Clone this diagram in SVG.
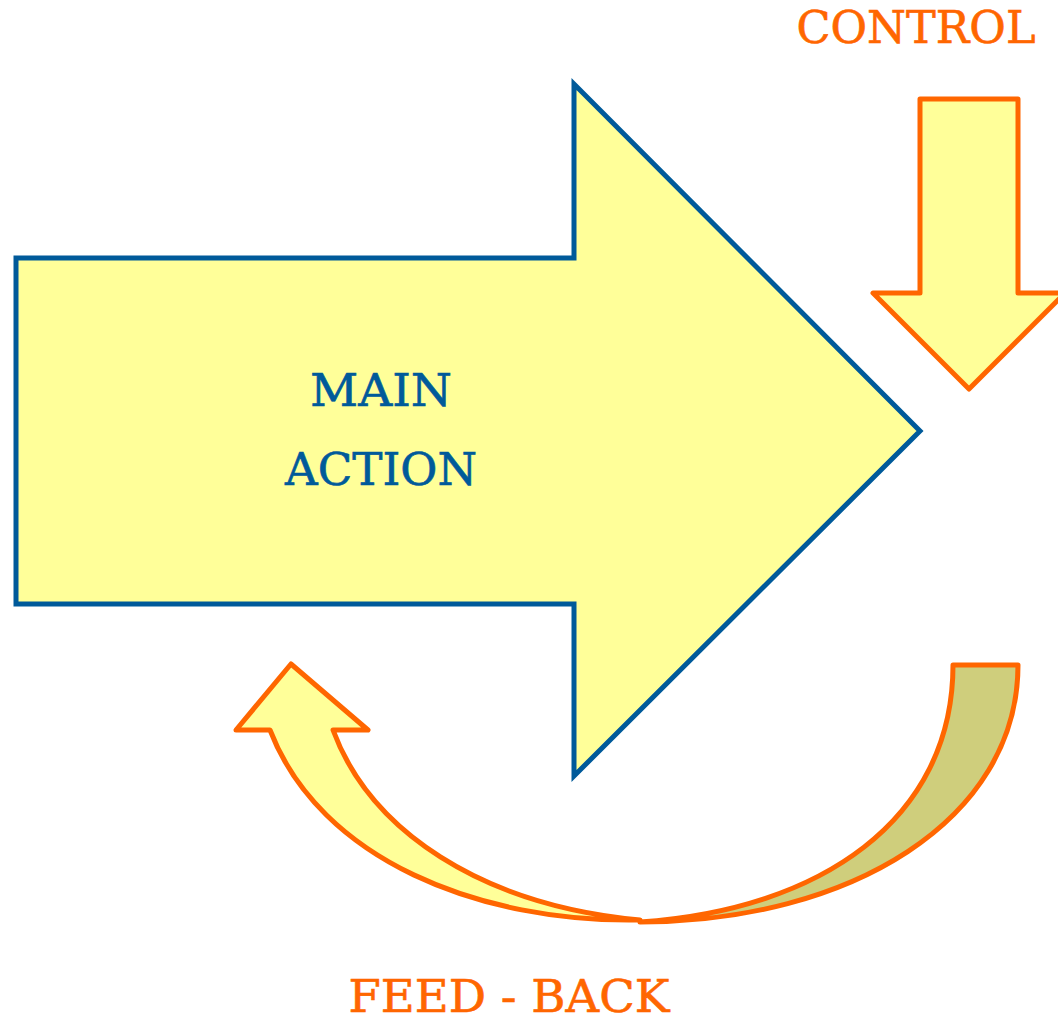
<svg xmlns="http://www.w3.org/2000/svg" width="1058" height="1020" viewBox="0 0 1058 1020">
<style>
.lbl{font-family:"DejaVu Serif","Liberation Serif",serif;font-size:44px;text-anchor:middle;stroke-width:0.6}
.org{fill:#ff6600;stroke:#ff6600}
.blu{fill:#005a9a;stroke:#005a9a}
.oshape{stroke:#ff6600;stroke-width:5;stroke-linejoin:round}
</style>
<rect width="1058" height="1020" fill="#ffffff"/>
<g id="main-action">
<polygon points="16,258 574,258 574,84 920,431 574,776 574,604 16,604" fill="#ffff99" stroke="#005a9a" stroke-width="5" stroke-linejoin="miter"/>
<text class="lbl blu" x="381" y="406" textLength="142" lengthAdjust="spacingAndGlyphs">MAIN</text>
<text class="lbl blu" x="381" y="485" textLength="192" lengthAdjust="spacingAndGlyphs">ACTION</text>
</g>
<g id="control">
<polygon class="oshape" points="920,99 1018,99 1018,293 1065,293 969,389 873,293 920,293" fill="#ffff99"/>
<text class="lbl org" x="916" y="43" textLength="239" lengthAdjust="spacingAndGlyphs">CONTROL</text>
</g>
<g id="connectors">
<g id="feedback">
<path class="oshape" fill="#cfce7c" d="M953,665 L1018,665 C1018,820 850,922 640,922 C820,910 953,820 953,665 Z"/>
<path class="oshape" fill="#ffff99" d="M270,730 L236,730 L291,664 L368,730 L333,730 C370,830 480,905 640,920 C480,923 320,860 270,730 Z"/>
<text class="lbl org" x="509" y="1012" textLength="321" lengthAdjust="spacingAndGlyphs">FEED - BACK</text>
</g>
</g>
</svg>
